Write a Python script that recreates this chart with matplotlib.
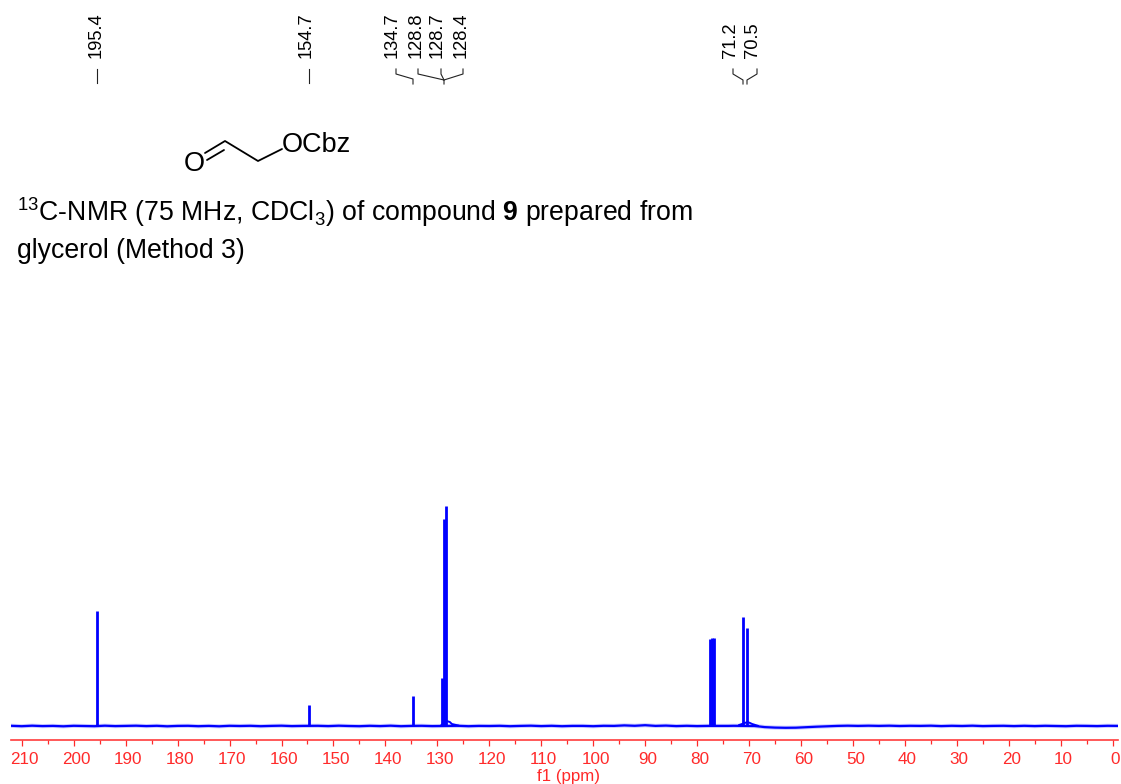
#!/usr/bin/env python3
"""13C-NMR spectrum of compound 9, redrawn from the published figure."""

import matplotlib
matplotlib.use("Agg")
import matplotlib.pyplot as plt
from matplotlib.transforms import ScaledTranslation

W, H = 1121, 784

# baseline (ppm, height above baseline in px)
base_ppm = [212, 210, 208, 206, 204, 202, 200, 198, 196, 194, 192, 190, 188, 186, 184, 182, 180,
            178, 176, 174, 172, 170, 168, 166, 164, 162, 160, 158, 156, 153, 151, 149, 147,
            145, 143, 141, 139, 137, 135, 133, 131, 126, 124, 122, 120, 118, 116, 114, 112,
            110, 108, 106, 104, 102, 100, 98, 96, 94, 92, 90, 88, 86, 84, 82, 80, 78, 74,
            73, 69, 68, 67, 65, 63, 61, 59, 57, 55, 53, 51, 49, 47, 45, 43, 41, 39, 37, 35,
            33, 31, 29, 27, 25, 23, 21, 19, 17, 15, 13, 11, 9, 7, 5, 3, 1, -1]
base_int = [0.2, -0.2, 0.3, -0.1, 0.1, -0.3, 0.2, 0.0, -0.2, 0.3, -0.1, 0.1, 0.3, -0.1, 0.2, -0.3, 0.1,
            0.2, -0.2, 0.1, -0.3, 0.2, 0.0, 0.2, -0.2, 0.1, 0.3, -0.1, 0.1, 0.2, -0.1, 0.3, 0.0,
            -0.2, 0.2, -0.1, 0.3, -0.2, 0.1, 0.2, -0.1, 0.2, -0.2, 0.1, 0.0, 0.2, -0.2, 0.1, 0.3,
            -0.1, 0.2, -0.2, 0.1, 0.1, -0.2, 0.2, 0.1, 0.6, 0.2, 0.8, 0.1, 0.4, -0.1, 0.2, -0.1, 0.1, 0.1,
            0.2, 0.0, -0.5, -1.1, -1.6, -1.8, -1.7, -1.2, -0.7, -0.3, 0.1, 0.3, 0.1, 0.3, 0.1, 0.3, 0.0, 0.2, 0.1, 0.3,
            -0.1, 0.2, 0.0, 0.3, -0.1, 0.1, 0.2, -0.1, 0.2, -0.1, 0.2, 0.0, -0.2, 0.2, 0.1, -0.1, 0.2, 0.1]

# peaks (ppm, height in px)
peak_ppm = [195.5, 154.7, 134.7, 129.1, 128.8, 128.4, 77.6, 77.1, 76.7, 71.2, 70.4]
peak_int = [115, 21, 30, 48, 207, 220, 87, 88, 88, 109, 98]

# shift labels at the top
label_txt = ["195.4", "154.7", "134.7", "128.8", "128.7", "128.4", "71.2", "70.5"]
label_x = [96, 306, 392, 416, 437, 461, 730, 753]
major_ticks = list(range(0, 211, 10))
minor_ticks = list(range(5, 206, 10))


def main():
    plt.rcParams["font.family"] = ["Liberation Sans", "DejaVu Sans"]
    plt.rcParams["mathtext.fontset"] = "custom"
    plt.rcParams["mathtext.rm"] = "Liberation Sans"
    plt.rcParams["mathtext.bf"] = "Liberation Sans:bold"
    plt.rcParams["mathtext.default"] = "regular"

    fig = plt.figure(figsize=(W / 100, H / 100), dpi=100)

    # spectrum axes, placed by pixel
    left, right, bottom, top = 11, 1118, 740, 490
    ax = fig.add_axes([left / W, 1 - bottom / H, (right - left) / W, (bottom - top) / H])
    ax.set_xlim(212.07, -1.02)
    ax.set_ylim(-14, 236)
    ax.patch.set_alpha(0)

    # soft fuzz under the baseline, the scan is noisy at this scale
    ax.plot(base_ppm, base_int, color="#0000ff", lw=3.0, alpha=0.2)
    ax.plot(base_ppm, base_int, color="#0000ff", lw=1.6)
    ax.vlines(peak_ppm, 0, peak_int, color="#0000ff", lw=2.0)
    ax.plot([129.2, 128.2, 127.6, 127.2, 126.0], [1, 5, 4, 2, 0.5], color="#0000ff", lw=1.4)
    ax.plot([71.9, 70.3, 69.8, 69.4, 68.3], [1, 4, 3, 2, 0.2], color="#0000ff", lw=1.4)

    for s in ["top", "left", "right"]:
        ax.spines[s].set_visible(False)
    ax.spines["bottom"].set_color("#ff3c3c")
    ax.spines["bottom"].set_linewidth(1.2)
    ax.set_yticks([])
    ax.set_xticks(major_ticks)
    ax.set_xticks(minor_ticks, minor=True)
    ax.tick_params(axis="x", which="major", length=4.3, width=0.9, color="#ff2a2a",
                   labelcolor="#ff2a2a", labelsize=12.3, pad=4)
    ax.tick_params(axis="x", which="minor", length=2.6, width=0.9, color="#ff2a2a")
    # the labels sit a little right of their ticks in the original
    shift = ScaledTranslation(2.5 / 100, 0, fig.dpi_scale_trans)
    for lab in ax.get_xticklabels():
        lab.set_transform(lab.get_transform() + shift)
    ax.set_xlabel("f1 (ppm)", color="#ff2a2a", fontsize=12.2, labelpad=1.5, x=0.504)

    # overlay in image pixels for the annotation and the drawn structure
    ov = fig.add_axes([0, 0, 1, 1])
    ov.set_xlim(0, W)
    ov.set_ylim(H, 0)
    ov.axis("off")
    ov.patch.set_alpha(0)

    for t, x in zip(label_txt, label_x):
        ov.text(x, 58, t, rotation=90, ha="center", va="bottom", fontsize=13.2, color="black")

    k = dict(color="#222222", lw=0.8)
    ov.plot([97, 97], [69, 83], **k)
    ov.plot([309, 309], [69, 83], **k)
    ov.plot([396, 396, 413, 413], [69, 74, 79, 84], **k)
    ov.plot([418, 418, 444, 444], [69, 74, 80, 84], **k)
    ov.plot([441, 441, 444], [69, 74, 80], **k)
    ov.plot([463, 463, 444], [69, 74, 80], **k)
    ov.plot([733, 733, 743, 743], [69, 74, 80, 84], **k)
    ov.plot([757, 757, 747, 747], [69, 74, 80, 84], **k)

    # structure
    b = dict(color="black", lw=1.3, solid_capstyle="round")
    ov.plot([205, 225, 258, 282], [153, 141, 161, 149], **b)
    ov.plot([207, 224], [160, 150], **b)
    ov.text(194, 164, "O", ha="center", va="center", fontsize=19.5)
    ov.text(282, 145, "OCbz", ha="left", va="center", fontsize=19.5)

    ov.text(17, 212, r"$^{13}$C-NMR (75 MHz, CDCl$_{3}$) of compound $\mathbf{9}$ prepared from",
            ha="left", va="center", fontsize=19.2)
    ov.text(17, 251, "glycerol (Method 3)", ha="left", va="center", fontsize=19.2)

    fig.savefig("out.png", dpi=100)


if __name__ == "__main__":
    main()
